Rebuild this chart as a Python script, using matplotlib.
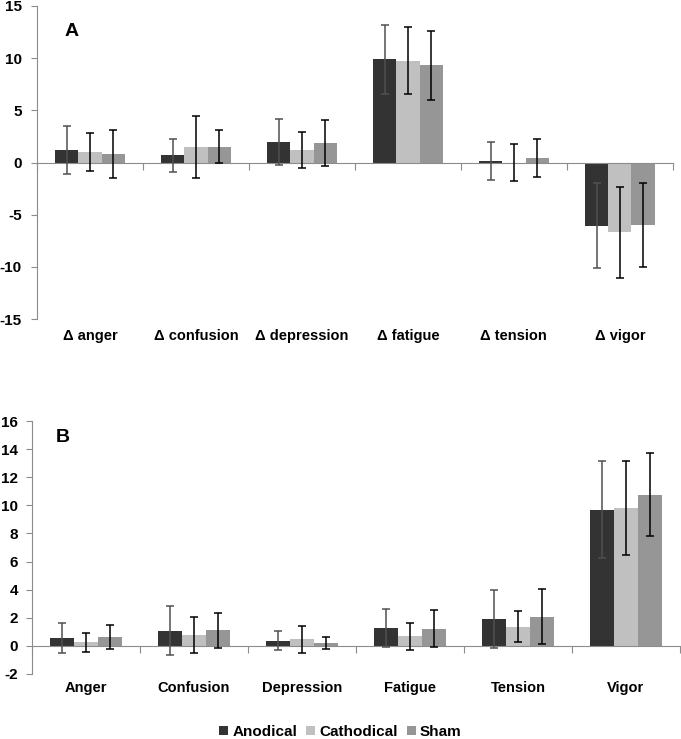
import matplotlib
matplotlib.use("Agg")
import matplotlib.pyplot as plt
import numpy as np
from matplotlib.patches import Patch

plt.rcParams['font.family'] = ['Liberation Sans', 'DejaVu Sans']
plt.rcParams['font.weight'] = 'bold'

series = ["Anodical", "Cathodical", "Sham"]
colors = ["#333333", "#c0c0c0", "#969696"]
err_colors = ["#505050", "#000000", "#000000"]

cats_a = ["\u0394 anger", "\u0394 confusion", "\u0394 depression", "\u0394 fatigue", "\u0394 tension", "\u0394 vigor"]
anodical_a = [1.2, 0.7, 2.0, 9.9, 0.15, -6.08]
cathodical_a = [1.0, 1.5, 1.2, 9.75, 0.0, -6.7]
sham_a = [0.77, 1.53, 1.85, 9.3, 0.45, -6.0]
anodical_a_err = [2.3, 1.6, 2.2, 3.3, 1.85, 4.07]
cathodical_a_err = [1.8, 2.95, 1.7, 3.2, 1.82, 4.4]
sham_a_err = [2.3, 1.6, 2.2, 3.3, 1.85, 4.05]

cats_b = ["Anger", "Confusion", "Depression", "Fatigue", "Tension", "Vigor"]
anodical_b = [0.57, 1.08, 0.38, 1.28, 1.89, 9.68]
cathodical_b = [0.27, 0.78, 0.47, 0.69, 1.37, 9.82]
sham_b = [0.65, 1.1, 0.21, 1.21, 2.08, 10.77]
anodical_b_err = [1.08, 1.74, 0.71, 1.33, 2.07, 3.44]
cathodical_b_err = [0.68, 1.3, 0.97, 0.95, 1.1, 3.33]
sham_b_err = [0.86, 1.27, 0.45, 1.32, 1.98, 2.97]

fig = plt.figure(figsize=(6.81, 7.39), dpi=100)
axA = fig.add_axes([0.0543, 0.5683, 0.988 - 0.0543, 0.9919 - 0.5683])
axB = fig.add_axes([0.047, 0.088, 0.9985 - 0.047, 0.4303 - 0.088])

spine_col = "#8c8c8c"
bw = 0.22
offsets = [-bw, 0, bw]


def draw(ax, cats, vals, errs, ylim, yticks, ypad):
    x = np.arange(1, len(cats) + 1)
    for i in range(3):
        ax.bar(x + offsets[i], vals[i], width=bw, color=colors[i], zorder=2)
        ax.errorbar(x + offsets[i], vals[i], yerr=errs[i], fmt='none',
                    ecolor=err_colors[i], elinewidth=1.1, capsize=3.2, capthick=1.1, zorder=3)
    ax.set_xlim(0.5, len(cats) + 0.5)
    ax.set_ylim(*ylim)
    ax.set_yticks(yticks)
    ax.set_yticklabels([str(t) for t in yticks], fontsize=11, fontweight='bold')
    for s in ['top', 'right']:
        ax.spines[s].set_visible(False)
    ax.spines['left'].set_color(spine_col)
    ax.spines['bottom'].set_color(spine_col)
    ax.spines['bottom'].set_position(('data', 0))
    ax.set_xticks(np.arange(0.5, len(cats) + 1, 1.0))
    ax.set_xticklabels([])
    ax.tick_params(axis='x', direction='out', length=5, color=spine_col, width=0.8)
    ax.tick_params(axis='y', direction='out', length=4, color=spine_col, width=0.8, pad=ypad)
    for xi, c in zip(x, cats):
        ax.text(xi, -0.055, c, transform=ax.get_xaxis_transform(),
                ha='center', va='center', fontsize=10.5, fontweight='bold')
    ax.set_facecolor('none')


draw(axA, cats_a, [anodical_a, cathodical_a, sham_a],
     [anodical_a_err, cathodical_a_err, sham_a_err], (-15, 15), list(range(-15, 16, 5)), 7)
draw(axB, cats_b, [anodical_b, cathodical_b, sham_b],
     [anodical_b_err, cathodical_b_err, sham_b_err], (-2, 16), list(range(-2, 17, 2)), 6)

fig.text(72 / 681, 1 - 32 / 739, "A", fontsize=14, fontweight='bold', ha='center', va='center')
fig.text(63 / 681, 1 - 437 / 739, "B", fontsize=14, fontweight='bold', ha='center', va='center')

handles = [Patch(facecolor=c, edgecolor='none') for c in colors]
fig.legend(handles, series, loc='center', bbox_to_anchor=(0.5, 1 - 732 / 739), ncol=3,
           frameon=False, handlelength=0.6, handleheight=0.6,
           handletextpad=0.25, columnspacing=0.6, prop={'weight': 'bold', 'size': 11})

fig.savefig("out.png", dpi=100)
